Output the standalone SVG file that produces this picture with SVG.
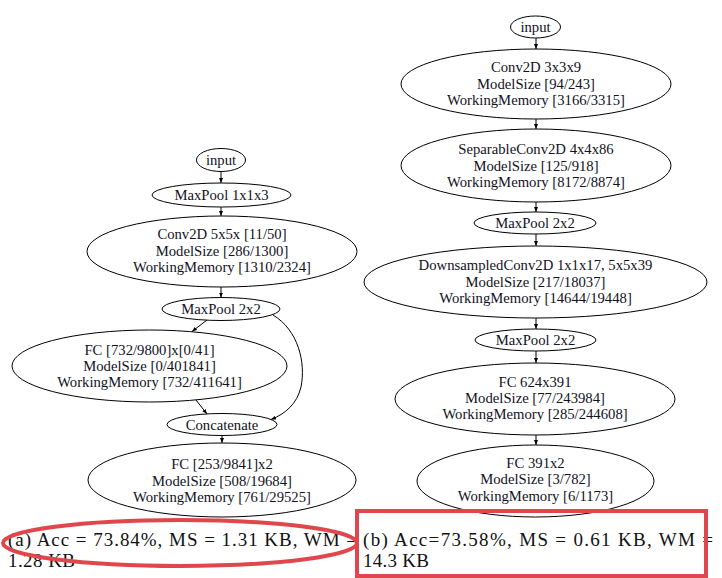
<svg xmlns="http://www.w3.org/2000/svg" width="722" height="578" viewBox="0 0 722 578">
<style>
.n ellipse{fill:none;stroke:#000;stroke-width:1}
.n text{font-family:"Liberation Serif","Times New Roman",serif;font-size:14.7px;fill:#111122;text-anchor:middle}
.e{fill:none;stroke:#000;stroke-width:1}
.cap{font-family:"Liberation Serif","Times New Roman",serif;font-size:19px;fill:#111}
.red{fill:none;stroke:#e0474c;stroke-width:4}
</style>
<defs>
<marker id="ah" markerUnits="userSpaceOnUse" markerWidth="5" markerHeight="4" refX="5" refY="2" orient="auto">
<path d="M0,0 L5,2 L0,4 z" fill="#000"/>
</marker>
</defs>
<rect width="722" height="578" fill="#fff"/>

<g id="a_input" class="n"><ellipse cx="221" cy="160" rx="24.5" ry="11.5"/><text x="221" y="165">input</text></g>
<g id="a_maxpool1" class="n"><ellipse cx="221.5" cy="195" rx="69.5" ry="12"/><text x="221.5" y="200">MaxPool 1x1x3</text></g>
<g id="a_conv2d" class="n"><ellipse cx="222" cy="251.5" rx="135" ry="35.5"/>
<text x="222" y="239">Conv2D 5x5x [11/50]</text><text x="222" y="256">ModelSize [286/1300]</text><text x="222" y="272">WorkingMemory [1310/2324]</text></g>
<g id="a_maxpool2" class="n"><ellipse cx="221" cy="309" rx="59" ry="11.5"/><text x="221" y="314">MaxPool 2x2</text></g>
<g id="a_fc1" class="n"><ellipse cx="149.5" cy="366" rx="137.5" ry="36"/>
<text x="149.5" y="355">FC [732/9800]x[0/41]</text><text x="149.5" y="371">ModelSize [0/401841]</text><text x="149.5" y="387">WorkingMemory [732/411641]</text></g>
<g id="a_concat" class="n"><ellipse cx="222" cy="424.5" rx="55" ry="11"/><text x="222" y="429.5">Concatenate</text></g>
<g id="a_fc2" class="n"><ellipse cx="222" cy="480" rx="134" ry="37"/>
<text x="222" y="469">FC [253/9841]x2</text><text x="222" y="486">ModelSize [508/19684]</text><text x="222" y="502">WorkingMemory [761/29525]</text></g>

<g id="b_input" class="n"><ellipse cx="535.5" cy="27" rx="25" ry="11"/><text x="535.5" y="32">input</text></g>
<g id="b_conv2d" class="n"><ellipse cx="536" cy="84" rx="135" ry="35"/>
<text x="536" y="72">Conv2D 3x3x9</text><text x="536" y="89">ModelSize [94/243]</text><text x="536" y="105">WorkingMemory [3166/3315]</text></g>
<g id="b_sepconv" class="n"><ellipse cx="536" cy="165.5" rx="135" ry="36.5"/>
<text x="536" y="154">SeparableConv2D 4x4x86</text><text x="536" y="171">ModelSize [125/918]</text><text x="536" y="187">WorkingMemory [8172/8874]</text></g>
<g id="b_maxpool1" class="n"><ellipse cx="535" cy="223" rx="61" ry="11"/><text x="535" y="228">MaxPool 2x2</text></g>
<g id="b_downconv" class="n"><ellipse cx="535.5" cy="282" rx="171.5" ry="36"/>
<text x="535.5" y="270">DownsampledConv2D 1x1x17, 5x5x39</text><text x="535.5" y="287">ModelSize [217/18037]</text><text x="535.5" y="303">WorkingMemory [14644/19448]</text></g>
<g id="b_maxpool2" class="n"><ellipse cx="535.5" cy="340" rx="60.5" ry="11"/><text x="535.5" y="345">MaxPool 2x2</text></g>
<g id="b_fc1" class="n"><ellipse cx="535" cy="399" rx="140" ry="36"/>
<text x="535" y="387">FC 624x391</text><text x="535" y="403">ModelSize [77/243984]</text><text x="535" y="419">WorkingMemory [285/244608]</text></g>
<g id="b_fc2" class="n"><ellipse cx="535.5" cy="481" rx="118.5" ry="36"/>
<text x="535.5" y="468">FC 391x2</text><text x="535.5" y="484">ModelSize [3/782]</text><text x="535.5" y="501">WorkingMemory [6/1173]</text></g>

<g id="connectors">
<line class="e" x1="221" y1="171.5" x2="221" y2="183" marker-end="url(#ah)"/>
<line class="e" x1="221" y1="207" x2="221" y2="216" marker-end="url(#ah)"/>
<line class="e" x1="221" y1="287" x2="221" y2="297.5" marker-end="url(#ah)"/>
<line class="e" x1="207" y1="320" x2="192" y2="331.5" marker-end="url(#ah)"/>
<path class="e" d="M273,315 C298,330 306,362 301,387 C297,404 285,414 271,419.5" marker-end="url(#ah)"/>
<line class="e" x1="196" y1="400" x2="207" y2="414" marker-end="url(#ah)"/>
<line class="e" x1="222" y1="435.5" x2="222" y2="443" marker-end="url(#ah)"/>
<line class="e" x1="536" y1="38" x2="536" y2="49" marker-end="url(#ah)"/>
<line class="e" x1="536" y1="119" x2="536" y2="129" marker-end="url(#ah)"/>
<line class="e" x1="536" y1="202" x2="536" y2="212" marker-end="url(#ah)"/>
<line class="e" x1="536" y1="234" x2="536" y2="246" marker-end="url(#ah)"/>
<line class="e" x1="536" y1="318" x2="536" y2="329" marker-end="url(#ah)"/>
<line class="e" x1="536" y1="351" x2="536" y2="363" marker-end="url(#ah)"/>
<line class="e" x1="536" y1="435" x2="536" y2="445" marker-end="url(#ah)"/>
</g>

<g id="captions">
<text class="cap" x="8" y="546" textLength="349" lengthAdjust="spacing">(a) Acc = 73.84%, MS = 1.31 KB, WM =</text>
<text class="cap" x="8" y="567" textLength="67" lengthAdjust="spacing">1.28 KB</text>
<text class="cap" x="363" y="546" textLength="350" lengthAdjust="spacing">(b) Acc=73.58%, MS = 0.61 KB, WM =</text>
<text class="cap" x="363" y="567" textLength="66" lengthAdjust="spacing">14.3 KB</text>
</g>

<g id="annotations">
<ellipse class="red" cx="180" cy="543" rx="177" ry="23"/>
<rect class="red" x="357" y="511" width="349" height="65"/>
</g>
</svg>
